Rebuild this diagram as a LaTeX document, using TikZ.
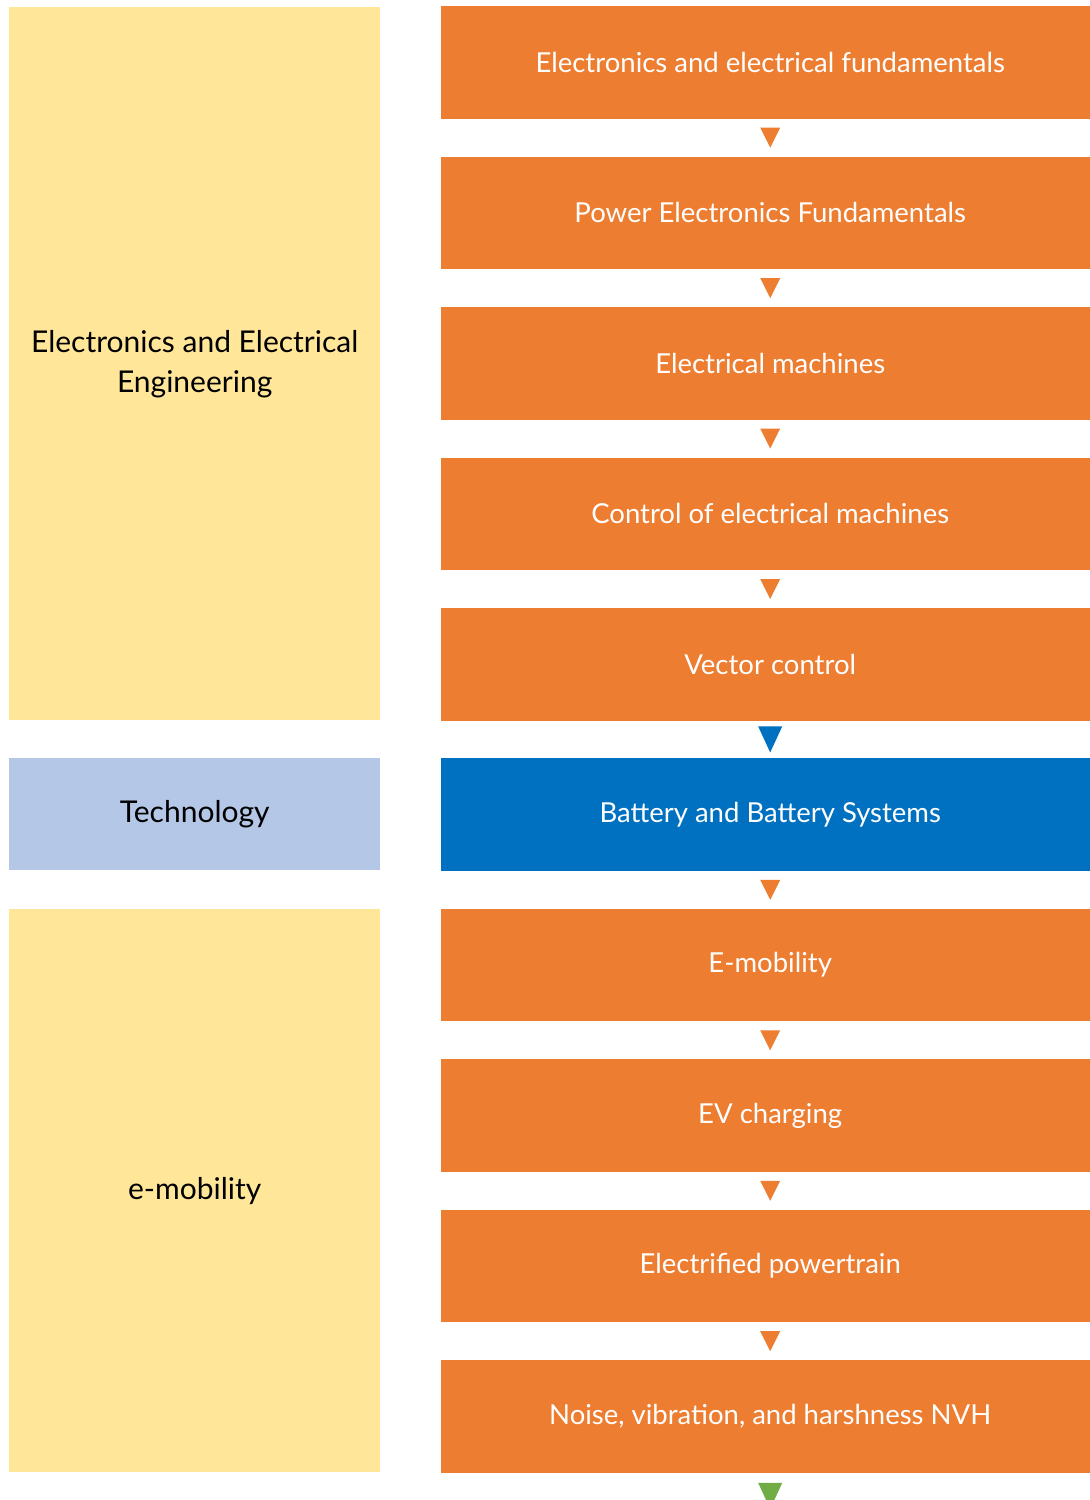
\documentclass[tikz,border=0pt]{standalone}
\usepackage{fontspec}
\setmainfont{Lato}
\usetikzlibrary{calc}
\definecolor{boxorange}{HTML}{ED7D31}
\definecolor{boxblue}{HTML}{0070C0}
\definecolor{boxyellow}{HTML}{FFE699}
\definecolor{boxlight}{HTML}{B4C7E7}
\definecolor{tigreen}{HTML}{70AD47}
\tikzset{
  stepbox/.style={rectangle, inner sep=0pt, minimum width=658pt, minimum height=112.5pt, anchor=north west, fill=boxorange, text=white, font=\fontsize{27.5}{33}\selectfont},
  bluebox/.style={stepbox, fill=boxblue},
  groupbox/.style={rectangle, inner sep=0pt, minimum width=371pt, anchor=north west, fill=boxyellow, text=black, align=center, font=\fontsize{30}{40}\selectfont},
  techbox/.style={groupbox, fill=boxlight},
}
\newcommand{\flowtri}[5]{% from, to, color, halfwidth, height
  \fill[#3] ($(#1.south)!0.5!(#2)$) ++(-#4,#5/2) -- ++(2*#4,0) -- ++(-#4,-#5) -- cycle;}
\begin{document}
\begin{tikzpicture}[x=1pt,y=1pt]
\useasboundingbox (0,0) rectangle (1090,-1500);
\clip (0,0) rectangle (1090,-1500);
\fill[white] (0,0) rectangle (1090,-1500);
% left group boxes
\node[groupbox, minimum height=713pt] (g1) at (9,-7) {Electronics and Electrical\\Engineering};
\node[techbox, minimum height=112pt] (g2) at (9,-758) {Technology};
\node[groupbox, minimum height=563pt] (g3) at (9,-909) {e-mobility};
% right steps
\node[stepbox] (b1) at (441,-6) {Electronics and electrical fundamentals};
\node[stepbox] (b2) at (441,-156.4) {Power Electronics Fundamentals};
\node[stepbox] (b3) at (441,-306.9) {Electrical machines};
\node[stepbox] (b4) at (441,-457.3) {Control of electrical machines};
\node[stepbox] (b5) at (441,-607.8) {Vector control};
\node[bluebox] (b6) at (441,-758.2) {Battery and Battery Systems};
\node[stepbox] (b7) at (441,-908.6) {E-mobility};
\node[stepbox] (b8) at (441,-1059.1) {EV charging};
\node[stepbox] (b9) at (441,-1209.5) {Electrified powertrain};
\node[stepbox] (b10) at (441,-1360) {Noise, vibration, and harshness NVH};
\coordinate (endpt) at ($(b10.south)+(0,-46)$);
% connectors
\flowtri{b1}{b2.north}{boxorange}{10}{20}
\flowtri{b2}{b3.north}{boxorange}{10}{20}
\flowtri{b3}{b4.north}{boxorange}{10}{20}
\flowtri{b4}{b5.north}{boxorange}{10}{20}
\flowtri{b5}{b6.north}{boxblue}{12}{26}
\flowtri{b6}{b7.north}{boxorange}{10}{20}
\flowtri{b7}{b8.north}{boxorange}{10}{20}
\flowtri{b8}{b9.north}{boxorange}{10}{20}
\flowtri{b9}{b10.north}{boxorange}{10}{20}
\flowtri{b10}{endpt}{tigreen}{12}{26}
\end{tikzpicture}
\end{document}
